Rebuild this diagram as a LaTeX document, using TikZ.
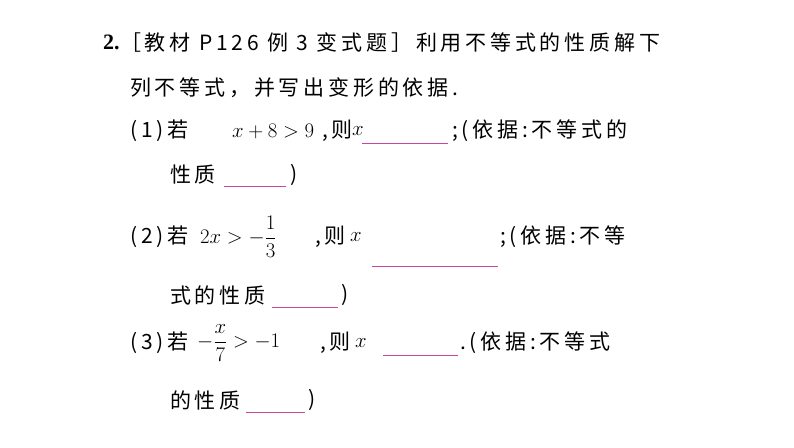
\documentclass[tikz,border=0pt]{standalone}
\usepackage{fontspec}
\setmainfont{Liberation Serif}
\newfontfamily\cjk[LetterSpace=18]{Noto Sans CJK SC}
\definecolor{ul}{RGB}{200,70,160}
\tikzset{t/.style={anchor=west,inner sep=0pt,font=\cjk\fontsize{21}{24}\selectfont},
m/.style={anchor=west,inner sep=0pt,font=\fontsize{21}{24}\selectfont},
blank/.style={ul,line width=0.8pt}}
\begin{document}
\begin{tikzpicture}[x=1pt,y=-1pt]
\useasboundingbox (0,0) rectangle (794,447);
\node[m,font=\bfseries\fontsize{22}{24}\selectfont] (n2) at (103,42) {2.};
\node[t] (l1a) at (120,42) {［教材 P126 例 3 变式题］利用不等式的性质解下};
\node[t] (l2) at (130,88) {列不等式，并写出变形的依据.};
% line 3
\node[t] (a1) at (130,131) {(1)若};
\node[m] (a2) at (232,131) {$x+8>9$};
\node[t] (a3) at (322,131) {,则};
\node[m] (a4) at (352,131) {$x$};
\coordinate (u1a) at (362,143); \coordinate (u1b) at (448,143);
\draw[blank] (u1a) -- (u1b);
\node[t] (a5) at (452,131) {;(依据:不等式的};
\node[t] (b1) at (170,175) {性质};
\coordinate (u2a) at (224,186); \coordinate (u2b) at (286,186);
\draw[blank] (u2a) -- (u2b);
\node[t] (b2) at (290,175) {)};
% line 5
\node[t] (c1) at (130,237) {(2)若};
\node[m] (c2) at (200,237) {$2x>-\displaystyle\frac{1}{3}$};
\node[t] (c3) at (315,237) {,则};
\node[m] (c4) at (350,237) {$x$};
\node[t] (c5) at (500,237) {;(依据:不等};
\coordinate (u3a) at (372,266); \coordinate (u3b) at (498,266);
\draw[blank] (u3a) -- (u3b);
\node[t] (d1) at (170,295) {式的性质};
\coordinate (u4a) at (272,307); \coordinate (u4b) at (338,307);
\draw[blank] (u4a) -- (u4b);
\node[t] (d2) at (341,295) {)};
% line 7
\node[t] (e1) at (130,343) {(3)若};
\node[m] (e2) at (197,343) {$-\displaystyle\frac{x}{7}>-1$};
\node[t] (e3) at (320,343) {,则};
\node[m] (e4) at (355,343) {$x$};
\coordinate (u5a) at (383,355); \coordinate (u5b) at (458,355);
\draw[blank] (u5a) -- (u5b);
\node[t] (e5) at (460,343) {.(依据:不等式};
\node[t] (f1) at (170,400) {的性质};
\coordinate (u6a) at (246,412); \coordinate (u6b) at (305,412);
\draw[blank] (u6a) -- (u6b);
\node[t] (f2) at (308,400) {)};
\end{tikzpicture}
\end{document}
